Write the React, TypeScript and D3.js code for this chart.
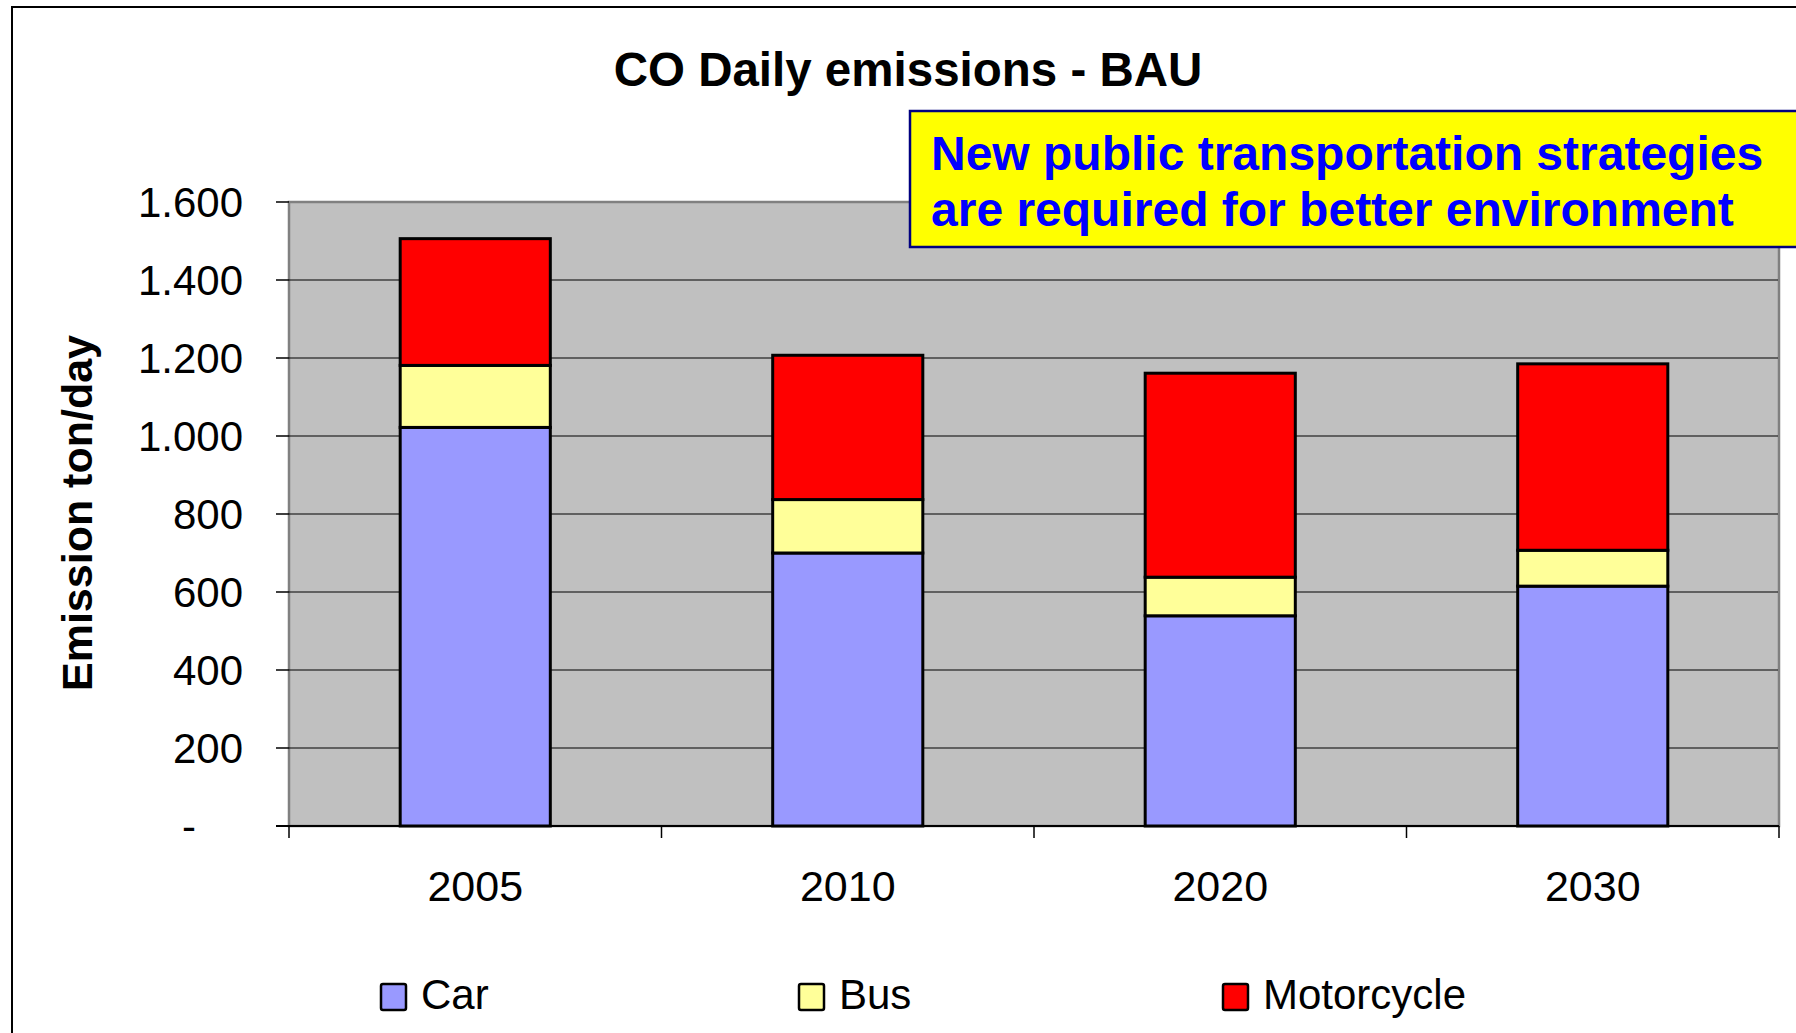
import React from "react";
import * as d3 from "d3";

const years = ["2005", "2010", "2020", "2030"];
const seriesNames = ["Car", "Bus", "Motorcycle"];
const carValues = [1022, 700, 539, 615];
const busValues = [159, 137, 99, 92];
const motoValues = [325, 370, 523, 478];
const yTicks = [0, 200, 400, 600, 800, 1000, 1200, 1400, 1600];
const seriesColors = ["#9999FF", "#FFFF99", "#FF0000"];
const titleText = "CO Daily emissions - BAU";
const yAxisTitle = "Emission ton/day";
const noteLines = ["New public transportation strategies", "are required for better environment"];

const FONT = "'Liberation Sans', Arial, Helvetica, sans-serif";

export default function App() {
  const W = 1796;
  const H = 1033;
  const left = 289;
  const right = 1779;
  const top = 202;
  const bottom = 826;

  const x = d3.scaleBand<string>().domain(years).range([left, right]).padding(0);
  const y = d3.scaleLinear().domain([0, 1600]).range([bottom, top]);
  const barW = x.bandwidth() * 0.403;

  const table = years.map((yr, i) => ({ year: yr, Car: carValues[i], Bus: busValues[i], Motorcycle: motoValues[i] }));
  const stack = d3.stack<any>().keys(seriesNames)(table);

  const locale = d3.formatLocale({ decimal: ",", thousands: ".", grouping: [3], currency: ["", ""] });
  const fmt = locale.format(",d");
  const tickLabel = (v: number) => (v === 0 ? "-" : fmt(v));

  const legendX = [381, 799, 1223];

  return (
    <svg width={W} height={H} style={{ position: "absolute", left: 0, top: 0, background: "#fff" }} fontFamily={FONT}>
      <rect x={0} y={0} width={W} height={H} fill="#fff" />
      {/* outer chart border */}
      <rect x={12} y={7} width={W + 50} height={H + 50} fill="none" stroke="#000" strokeWidth={2} />

      {/* title */}
      <text x={908} y={86} textAnchor="middle" fontSize={47.5} fontWeight="bold" fill="#000">
        {titleText}
      </text>

      {/* plot area */}
      <rect x={left} y={top} width={right - left} height={bottom - top} fill="#C0C0C0" stroke="#808080" strokeWidth={2.5} />

      {/* gridlines */}
      {yTicks
        .filter((t) => t > 0 && t < 1600)
        .map((t) => (
          <line key={"g" + t} x1={left} x2={right - 1} y1={y(t)} y2={y(t)} stroke="#000" strokeWidth={1.2} />
        ))}

      {/* y ticks and labels */}
      {yTicks.map((t) => (
        <g key={"yt" + t}>
          <line x1={276} x2={left} y1={y(t)} y2={y(t)} stroke="#000" strokeWidth={1.5} />
          <text x={t === 0 ? 196 : 243} y={y(t) + 15} textAnchor="end" fontSize={42} fill="#000">
            {tickLabel(t)}
          </text>
        </g>
      ))}

      {/* bars */}
      {stack.map((layer, si) =>
        layer.map((d, i) => (
          <rect
            key={si + "-" + i}
            x={(x(years[i]) as number) + (x.bandwidth() - barW) / 2}
            y={y(d[1])}
            width={barW}
            height={y(d[0]) - y(d[1])}
            fill={seriesColors[si]}
            stroke="#000"
            strokeWidth={3}
          />
        ))
      )}

      {/* x axis */}
      <line x1={276} x2={right} y1={bottom} y2={bottom} stroke="#000" strokeWidth={2} />
      {[...years.map((yr) => x(yr) as number), right].map((px, i) => (
        <line key={"xt" + i} x1={px} x2={px} y1={bottom} y2={838} stroke="#000" strokeWidth={1.5} />
      ))}
      {years.map((yr) => (
        <text key={"xl" + yr} x={(x(yr) as number) + x.bandwidth() / 2} y={901} textAnchor="middle" fontSize={43} fill="#000">
          {yr}
        </text>
      ))}

      {/* y axis title */}
      <text transform={`translate(92,513) rotate(-90)`} textAnchor="middle" fontSize={43} fontWeight="bold" fill="#000">
        {yAxisTitle}
      </text>

      {/* legend */}
      {seriesNames.map((s, i) => (
        <g key={"lg" + s}>
          <rect x={legendX[i]} y={984} width={25} height={26} rx={2} fill={seriesColors[i]} stroke="#000" strokeWidth={2.5} />
          <text x={legendX[i] + 40} y={1009} fontSize={42} fill="#000">
            {s}
          </text>
        </g>
      ))}

      {/* annotation box */}
      <rect x={910} y={111} width={W} height={136} fill="#FFFF00" stroke="#000080" strokeWidth={2.5} />
      {noteLines.map((l, i) => (
        <text key={"n" + i} x={931} y={170 + i * 56} fontSize={48} fontWeight="bold" fill="#0000FF">
          {l}
        </text>
      ))}
    </svg>
  );
}
